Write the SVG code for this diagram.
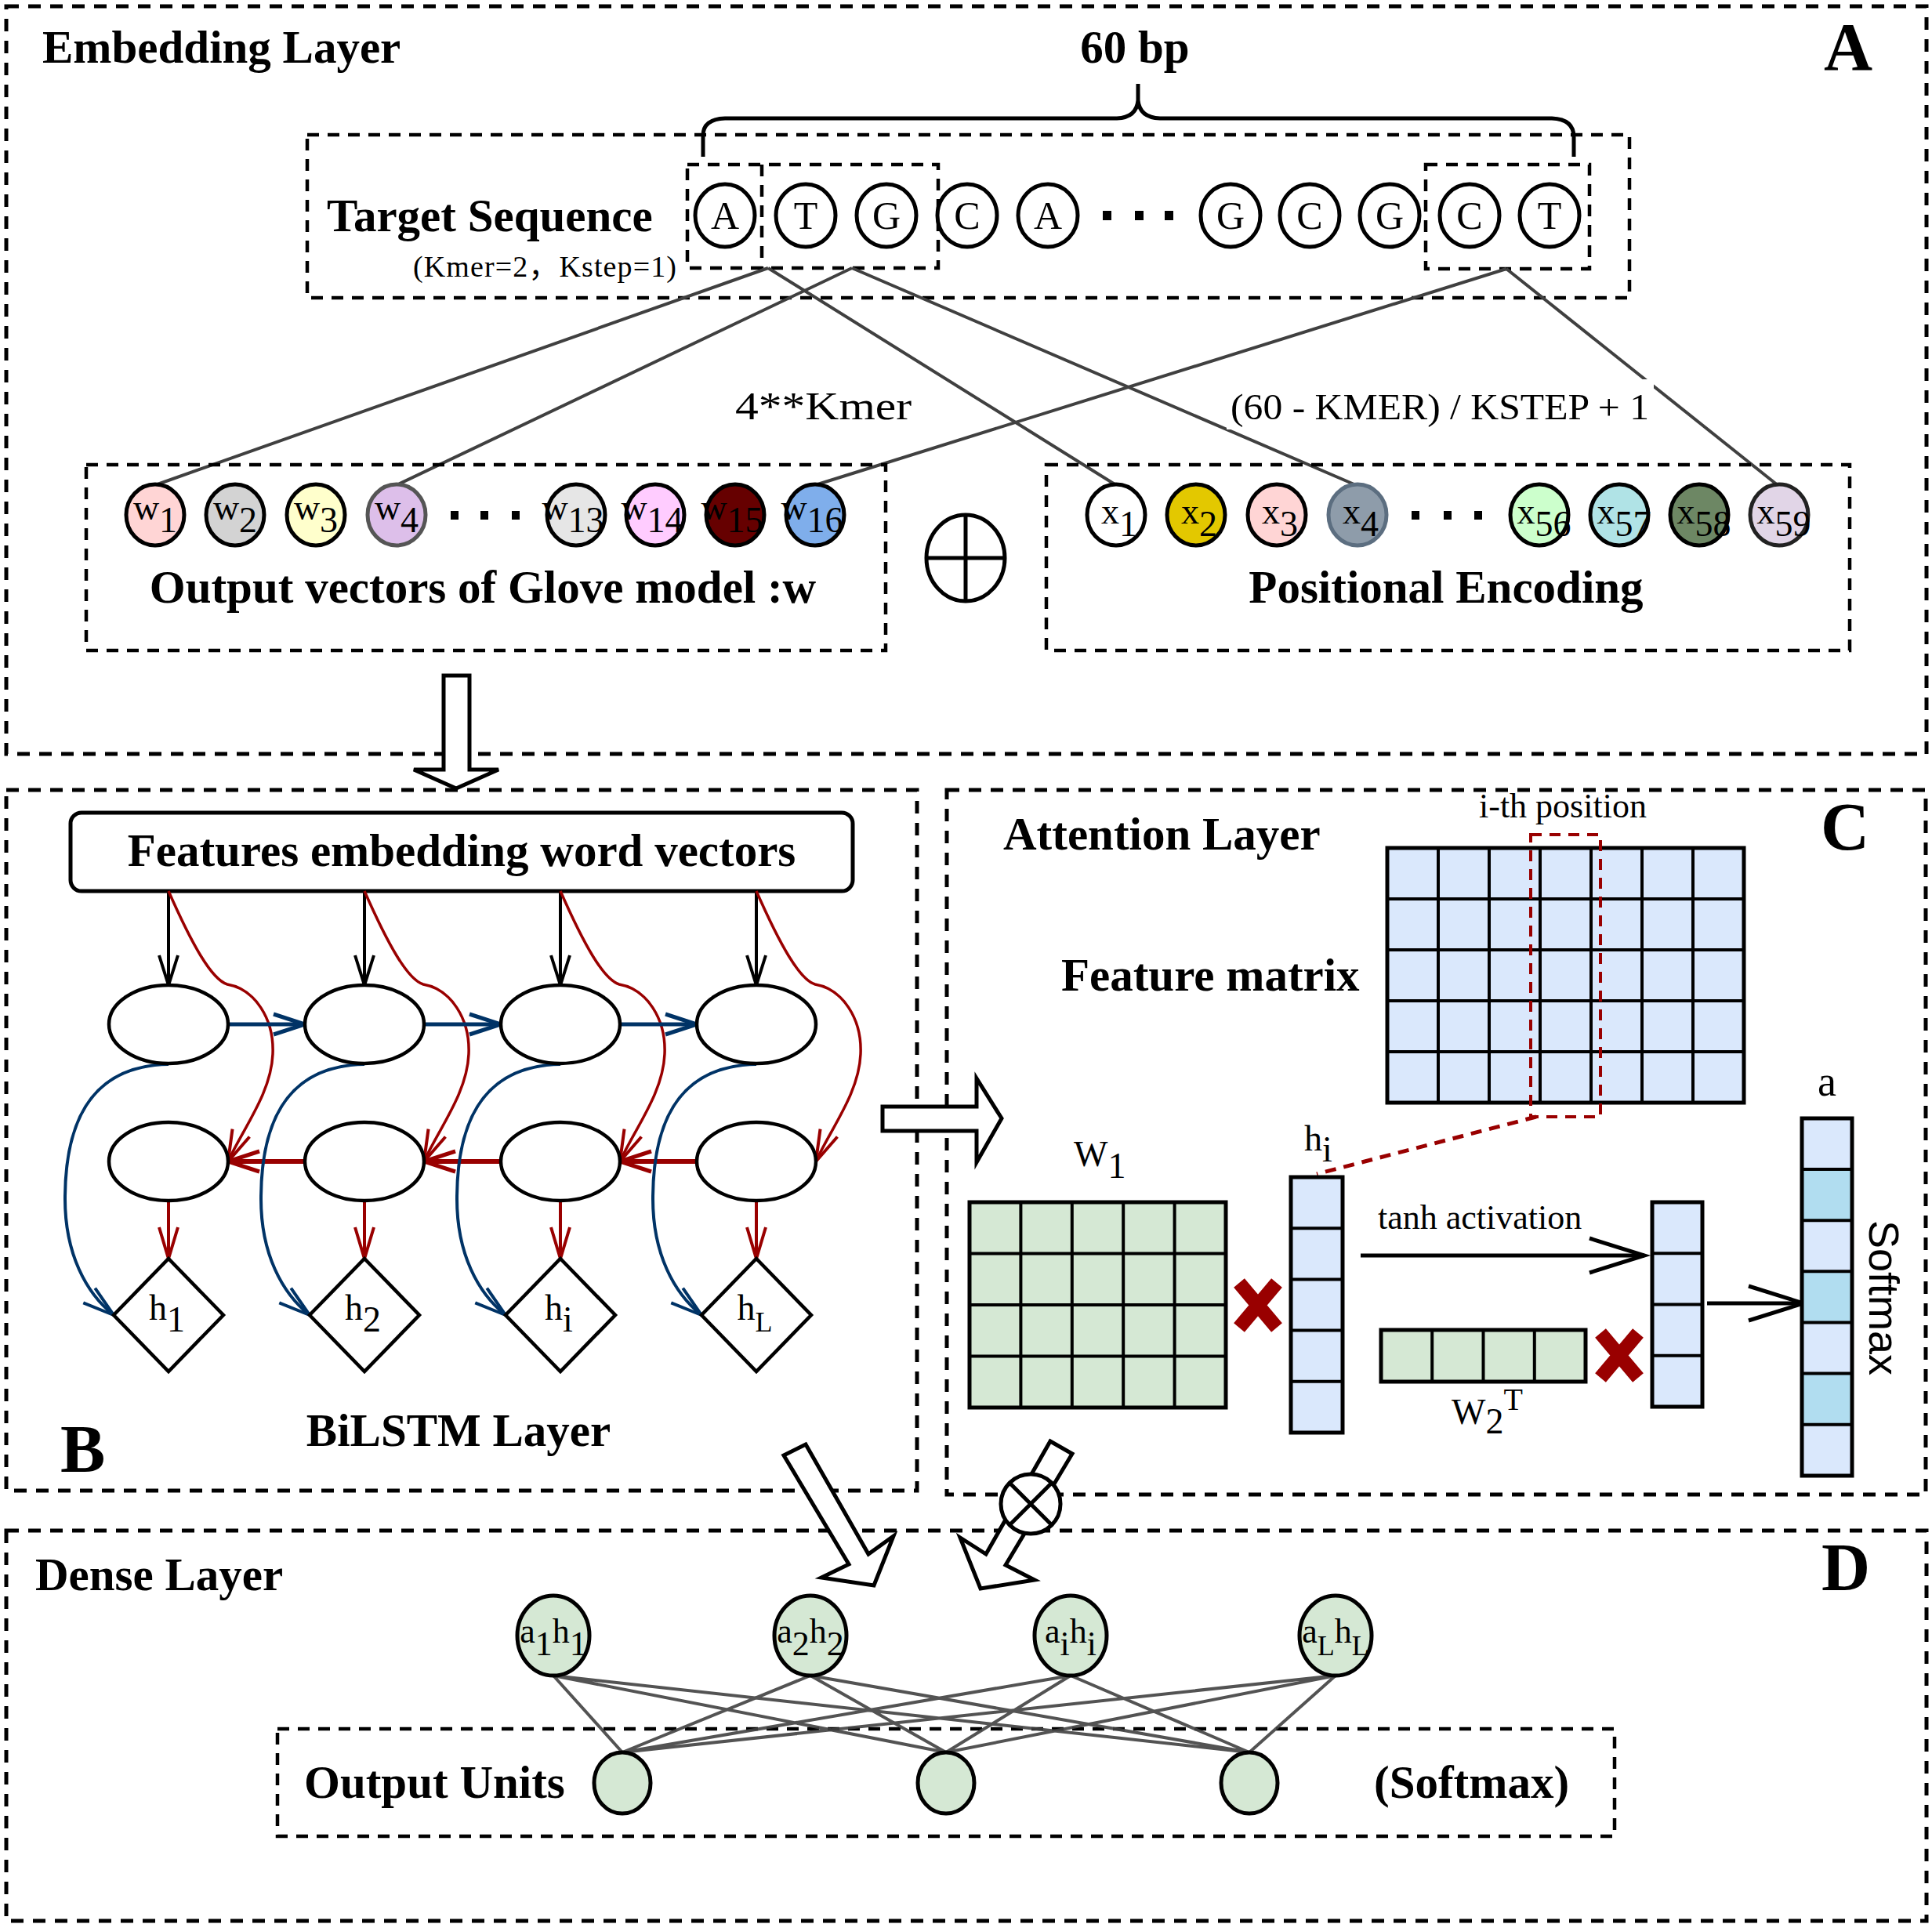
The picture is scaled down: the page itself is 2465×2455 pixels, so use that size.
<svg xmlns="http://www.w3.org/2000/svg" width="2465" height="2455" viewBox="0 0 2465 2455">
<style>
text{font-family:"Liberation Serif","Times New Roman",serif;fill:#000}
.b{font-weight:bold;font-size:59px}
.big{font-weight:bold;font-size:86px}
.r{font-size:46px}
.pnl{fill:none;stroke:#000;stroke-width:5;stroke-dasharray:16 12}
.box{fill:none;stroke:#000;stroke-width:4.5;stroke-dasharray:15 11}
.seq{fill:#fff;stroke:#000;stroke-width:5}
.vec{stroke:#000;stroke-width:5}
.link{stroke:#404040;stroke-width:4;fill:none}
.ell{fill:#fff;stroke:#000;stroke-width:4.5}
.grid{fill:none;stroke:#000;stroke-width:4}
.blu{fill:none;stroke:#003366;stroke-width:4}
.red{fill:none;stroke:#990000;stroke-width:3.5}
.hollow{fill:#fff;stroke:#000;stroke-width:5;stroke-linejoin:miter}
.dot{fill:#000}
.xm{stroke:#990000;stroke-width:18;fill:none}
</style>
<defs>
<marker id="mBlk" markerUnits="userSpaceOnUse" markerWidth="50" markerHeight="40" viewBox="-5 -5 50 40" refX="38" refY="12" orient="auto" overflow="visible"><path d="M0,0 L38,12 L0,24" fill="none" stroke="#000" stroke-width="4"/></marker>
<marker id="mBlu" markerUnits="userSpaceOnUse" markerWidth="50" markerHeight="40" viewBox="-5 -5 50 40" refX="40" refY="13" orient="auto" overflow="visible"><path d="M0,0 L40,13 L0,26" fill="none" stroke="#003366" stroke-width="5"/></marker>
<marker id="mRed" markerUnits="userSpaceOnUse" markerWidth="50" markerHeight="40" viewBox="-5 -5 50 40" refX="40" refY="13" orient="auto" overflow="visible"><path d="M0,0 L40,13 L0,26" fill="none" stroke="#990000" stroke-width="5"/></marker>
<marker id="mRedT" markerUnits="userSpaceOnUse" markerWidth="50" markerHeight="40" viewBox="-5 -5 50 40" refX="40" refY="12" orient="auto" overflow="visible"><path d="M0,0 L40,12 L0,24" fill="none" stroke="#990000" stroke-width="4"/></marker>
<marker id="mBluT" markerUnits="userSpaceOnUse" markerWidth="50" markerHeight="40" viewBox="-5 -5 50 40" refX="40" refY="12" orient="auto" overflow="visible"><path d="M0,0 L40,12 L0,24" fill="none" stroke="#003366" stroke-width="4"/></marker>
<marker id="mBig" markerUnits="userSpaceOnUse" markerWidth="80" markerHeight="60" viewBox="-5 -5 80 60" refX="70" refY="22" orient="auto" overflow="visible"><path d="M0,0 L70,22 L0,44" fill="none" stroke="#000" stroke-width="5"/></marker>
</defs>

<!-- Panel borders -->
<g id="panel-A"><rect class="pnl" x="8" y="8" width="2450" height="954"/></g>
<g id="panel-B"><rect class="pnl" x="8" y="1008" width="1162" height="894"/></g>
<g id="panel-C"><rect class="pnl" x="1208" y="1008" width="1249" height="899"/></g>
<g id="panel-D"><rect class="pnl" x="8" y="1953" width="2450" height="498"/></g>

<!-- ===== Panel A ===== -->
<text class="b" x="54" y="80">Embedding Layer</text>
<text class="b" x="1448" y="80" text-anchor="middle">60 bp</text>
<text class="big" x="2327" y="89">A</text>

<g id="brace"><path d="M897,200 V173 Q897,152 925,151 H1425 Q1450,150 1452,128 V107 M1452,128 Q1454,150 1480,151 H1980 Q2008,152 2008,175 V200" fill="none" stroke="#000" stroke-width="5"/></g>

<g id="target-sequence">
<rect class="box" x="392" y="172" width="1687" height="208"/>
<text class="b" x="417" y="295">Target Sequence</text>
<text x="527" y="353" font-size="38" textLength="336">(Kmer=2<tspan font-family="'Noto Sans CJK SC',sans-serif">，</tspan>Kstep=1)</text>
<rect class="box" x="877" y="210" width="320" height="132"/>
<line class="box" x1="972" y1="210" x2="972" y2="342"/>
<rect class="box" x="1819" y="210" width="209" height="133"/>
</g>

<g id="seq-nodes" font-size="50">
<g id="s1"><ellipse class="seq" cx="925" cy="275" rx="38" ry="40"/><text x="925" y="292" text-anchor="middle" font-size="50">A</text></g>
<g id="s2"><ellipse class="seq" cx="1028" cy="275" rx="38" ry="40"/><text x="1028" y="292" text-anchor="middle" font-size="50">T</text></g>
<g id="s3"><ellipse class="seq" cx="1131" cy="275" rx="38" ry="40"/><text x="1131" y="292" text-anchor="middle" font-size="50">G</text></g>
<g id="s4"><ellipse class="seq" cx="1234" cy="275" rx="38" ry="40"/><text x="1234" y="292" text-anchor="middle" font-size="50">C</text></g>
<g id="s5"><ellipse class="seq" cx="1337" cy="275" rx="38" ry="40"/><text x="1337" y="292" text-anchor="middle" font-size="50">A</text></g>
<g id="seq-dots"><rect class="dot" x="1407" y="269" width="11" height="12"/><rect class="dot" x="1448" y="269" width="11" height="12"/><rect class="dot" x="1486" y="269" width="11" height="12"/></g>
<g id="s56"><ellipse class="seq" cx="1570" cy="275" rx="38" ry="40"/><text x="1570" y="292" text-anchor="middle" font-size="50">G</text></g>
<g id="s57"><ellipse class="seq" cx="1671" cy="275" rx="38" ry="40"/><text x="1671" y="292" text-anchor="middle" font-size="50">C</text></g>
<g id="s58"><ellipse class="seq" cx="1773" cy="275" rx="38" ry="40"/><text x="1773" y="292" text-anchor="middle" font-size="50">G</text></g>
<g id="s59"><ellipse class="seq" cx="1875" cy="275" rx="38" ry="40"/><text x="1875" y="292" text-anchor="middle" font-size="50">C</text></g>
<g id="s60"><ellipse class="seq" cx="1977" cy="275" rx="38" ry="40"/><text x="1977" y="292" text-anchor="middle" font-size="50">T</text></g>
</g>

<g id="embed-connectors">
<line class="link" x1="980" y1="342" x2="198" y2="619"/>
<line class="link" x1="980" y1="342" x2="1424" y2="619"/>
<line class="link" x1="1087" y1="342" x2="506" y2="619"/>
<line class="link" x1="1087" y1="342" x2="1730" y2="619"/>
<line class="link" x1="1922" y1="343" x2="1040" y2="619"/>
<line class="link" x1="1922" y1="343" x2="2268" y2="619"/>
</g>

<text x="938" y="535" font-size="50" textLength="225" lengthAdjust="spacingAndGlyphs">4**Kmer</text>
<g id="formula-label"><rect x="1565" y="484" width="545" height="64" fill="#fff"/><text x="1570" y="535" font-size="47" textLength="534" lengthAdjust="spacingAndGlyphs">(60 - KMER) / KSTEP + 1</text></g>

<g id="glove">
<rect class="box" x="110" y="593" width="1020" height="237"/>
<g id="w1"><ellipse cx="198" cy="657" rx="37" ry="39" fill="#FFD5D5" class="vec"/><text class="r" x="198" y="663" text-anchor="middle">w<tspan dy="16">1</tspan></text></g>
<g id="w2"><ellipse cx="300" cy="657" rx="37" ry="39" fill="#D3D3D3" class="vec"/><text class="r" x="300" y="663" text-anchor="middle">w<tspan dy="16">2</tspan></text></g>
<g id="w3"><ellipse cx="403" cy="657" rx="37" ry="39" fill="#FFFFCC" class="vec"/><text class="r" x="403" y="663" text-anchor="middle">w<tspan dy="16">3</tspan></text></g>
<g id="w4"><ellipse cx="506" cy="657" rx="37" ry="39" fill="#DDBFEA" stroke="#555" stroke-width="5"/><text class="r" x="506" y="663" text-anchor="middle">w<tspan dy="16">4</tspan></text></g>
<g id="w-dots"><rect class="dot" x="575" y="652" width="10" height="11"/><rect class="dot" x="613" y="652" width="10" height="11"/><rect class="dot" x="653" y="652" width="10" height="11"/></g>
<g id="w13"><ellipse cx="735" cy="657" rx="37" ry="39" fill="#E6E6E6" class="vec"/><text class="r" x="731" y="663" text-anchor="middle">w<tspan dy="16">13</tspan></text></g>
<g id="w14"><ellipse cx="836" cy="657" rx="37" ry="39" fill="#FFCCFF" class="vec"/><text class="r" x="832" y="663" text-anchor="middle">w<tspan dy="16">14</tspan></text></g>
<g id="w15"><ellipse cx="938" cy="657" rx="37" ry="39" fill="#660000" class="vec"/><text class="r" x="934" y="663" text-anchor="middle">w<tspan dy="16">15</tspan></text></g>
<g id="w16"><ellipse cx="1040" cy="657" rx="37" ry="39" fill="#7FAEEB" class="vec"/><text class="r" x="1036" y="663" text-anchor="middle">w<tspan dy="16">16</tspan></text></g>
<text class="b" x="616" y="769" text-anchor="middle">Output vectors of Glove model :w</text>
</g>

<g id="oplus"><ellipse cx="1232" cy="712" rx="50" ry="55" fill="#fff" stroke="#000" stroke-width="5"/><path d="M1182,712 H1282 M1232,657 V767" stroke="#000" stroke-width="5"/></g>

<g id="positional">
<rect class="box" x="1335" y="593" width="1025" height="237"/>
<g id="x1"><ellipse cx="1424" cy="657" rx="37" ry="39" fill="#fff" class="vec"/><text class="r" x="1428" y="668" text-anchor="middle">x<tspan dy="16">1</tspan></text></g>
<g id="x2"><ellipse cx="1526" cy="657" rx="37" ry="39" fill="#E3C800" class="vec"/><text class="r" x="1530" y="668" text-anchor="middle">x<tspan dy="16">2</tspan></text></g>
<g id="x3"><ellipse cx="1629" cy="657" rx="37" ry="39" fill="#FFD5D5" class="vec"/><text class="r" x="1633" y="668" text-anchor="middle">x<tspan dy="16">3</tspan></text></g>
<g id="x4"><ellipse cx="1732" cy="657" rx="37" ry="39" fill="#8E9CAA" stroke="#5C6E80" stroke-width="5"/><text class="r" x="1736" y="668" text-anchor="middle">x<tspan dy="16">4</tspan></text></g>
<g id="x-dots"><rect class="dot" x="1801" y="652" width="10" height="11"/><rect class="dot" x="1842" y="652" width="10" height="11"/><rect class="dot" x="1881" y="652" width="10" height="11"/></g>
<g id="x56"><ellipse cx="1964" cy="657" rx="37" ry="39" fill="#CCFFCC" class="vec"/><text class="r" x="1970" y="668" text-anchor="middle">x<tspan dy="16">56</tspan></text></g>
<g id="x57"><ellipse cx="2066" cy="657" rx="37" ry="39" fill="#B0E3E6" class="vec"/><text class="r" x="2072" y="668" text-anchor="middle">x<tspan dy="16">57</tspan></text></g>
<g id="x58"><ellipse cx="2168" cy="657" rx="37" ry="39" fill="#6D8764" class="vec"/><text class="r" x="2174" y="668" text-anchor="middle">x<tspan dy="16">58</tspan></text></g>
<g id="x59"><ellipse cx="2270" cy="657" rx="37" ry="39" fill="#E1D5E7" stroke="#222" stroke-width="5"/><text class="r" x="2276" y="668" text-anchor="middle">x<tspan dy="16">59</tspan></text></g>
<text class="b" x="1845" y="769" text-anchor="middle">Positional Encoding</text>
</g>

<g id="arrow-A-B"><polygon class="hollow" points="566,862 599,862 599,982 636,982 582,1006 528,982 566,982"/></g>

<!-- ===== Panel B ===== -->
<g id="features-box"><rect x="90" y="1037" width="998" height="100" rx="14" fill="#fff" stroke="#000" stroke-width="5"/><text class="b" x="589" y="1105" text-anchor="middle">Features embedding word vectors</text></g>

<g id="bilstm-connectors">
<g id="col1-links">
<line x1="215" y1="1137" x2="215" y2="1257" stroke="#000" stroke-width="4" marker-end="url(#mBlk)"/>
<path class="red" d="M215,1137 C245,1205 270,1250 290,1256 C325,1262 350,1300 348,1345 C346,1395 310,1440 291,1482" marker-end="url(#mRedT)"/>
<path class="blu" d="M215,1358 C110,1360 83,1440 83,1530 C83,1600 110,1650 145,1678" marker-end="url(#mBluT)"/>
<line x1="215" y1="1533" x2="215" y2="1606" stroke="#990000" stroke-width="4" marker-end="url(#mRedT)"/>
<line x1="291" y1="1307" x2="389" y2="1307" stroke="#003366" stroke-width="5" marker-end="url(#mBlu)"/>
<line x1="389" y1="1482" x2="291" y2="1482" stroke="#990000" stroke-width="6" marker-end="url(#mRed)"/>
</g>
<g id="col2-links" transform="translate(250,0)">
<line x1="215" y1="1137" x2="215" y2="1257" stroke="#000" stroke-width="4" marker-end="url(#mBlk)"/>
<path class="red" d="M215,1137 C245,1205 270,1250 290,1256 C325,1262 350,1300 348,1345 C346,1395 310,1440 291,1482" marker-end="url(#mRedT)"/>
<path class="blu" d="M215,1358 C110,1360 83,1440 83,1530 C83,1600 110,1650 145,1678" marker-end="url(#mBluT)"/>
<line x1="215" y1="1533" x2="215" y2="1606" stroke="#990000" stroke-width="4" marker-end="url(#mRedT)"/>
<line x1="291" y1="1307" x2="389" y2="1307" stroke="#003366" stroke-width="5" marker-end="url(#mBlu)"/>
<line x1="389" y1="1482" x2="291" y2="1482" stroke="#990000" stroke-width="6" marker-end="url(#mRed)"/>
</g>
<g id="col3-links" transform="translate(500,0)">
<line x1="215" y1="1137" x2="215" y2="1257" stroke="#000" stroke-width="4" marker-end="url(#mBlk)"/>
<path class="red" d="M215,1137 C245,1205 270,1250 290,1256 C325,1262 350,1300 348,1345 C346,1395 310,1440 291,1482" marker-end="url(#mRedT)"/>
<path class="blu" d="M215,1358 C110,1360 83,1440 83,1530 C83,1600 110,1650 145,1678" marker-end="url(#mBluT)"/>
<line x1="215" y1="1533" x2="215" y2="1606" stroke="#990000" stroke-width="4" marker-end="url(#mRedT)"/>
<line x1="291" y1="1307" x2="389" y2="1307" stroke="#003366" stroke-width="5" marker-end="url(#mBlu)"/>
<line x1="389" y1="1482" x2="291" y2="1482" stroke="#990000" stroke-width="6" marker-end="url(#mRed)"/>
</g>
<g id="col4-links" transform="translate(750,0)">
<line x1="215" y1="1137" x2="215" y2="1257" stroke="#000" stroke-width="4" marker-end="url(#mBlk)"/>
<path class="red" d="M215,1137 C245,1205 270,1250 290,1256 C325,1262 350,1300 348,1345 C346,1395 310,1440 291,1482" marker-end="url(#mRedT)"/>
<path class="blu" d="M215,1358 C110,1360 83,1440 83,1530 C83,1600 110,1650 145,1678" marker-end="url(#mBluT)"/>
<line x1="215" y1="1533" x2="215" y2="1606" stroke="#990000" stroke-width="4" marker-end="url(#mRedT)"/>
</g>
</g>

<g id="lstm-nodes">
<g id="fw1"><ellipse class="ell" cx="215" cy="1307" rx="76" ry="50"/></g>
<g id="fw2"><ellipse class="ell" cx="465" cy="1307" rx="76" ry="50"/></g>
<g id="fw3"><ellipse class="ell" cx="715" cy="1307" rx="76" ry="50"/></g>
<g id="fw4"><ellipse class="ell" cx="965" cy="1307" rx="76" ry="50"/></g>
<g id="bw1"><ellipse class="ell" cx="215" cy="1482" rx="76" ry="50"/></g>
<g id="bw2"><ellipse class="ell" cx="465" cy="1482" rx="76" ry="50"/></g>
<g id="bw3"><ellipse class="ell" cx="715" cy="1482" rx="76" ry="50"/></g>
<g id="bw4"><ellipse class="ell" cx="965" cy="1482" rx="76" ry="50"/></g>
<g id="h1"><polygon points="215,1606 285,1678 215,1750 145,1678" fill="#fff" stroke="#000" stroke-width="4.5"/><text class="r" x="213" y="1684" text-anchor="middle">h<tspan dy="15">1</tspan></text></g>
<g id="h2"><polygon points="465,1606 535,1678 465,1750 395,1678" fill="#fff" stroke="#000" stroke-width="4.5"/><text class="r" x="463" y="1684" text-anchor="middle">h<tspan dy="15">2</tspan></text></g>
<g id="hi"><polygon points="715,1606 785,1678 715,1750 645,1678" fill="#fff" stroke="#000" stroke-width="4.5"/><text class="r" x="713" y="1684" text-anchor="middle">h<tspan dy="15">i</tspan></text></g>
<g id="hL"><polygon points="965,1606 1035,1678 965,1750 895,1678" fill="#fff" stroke="#000" stroke-width="4.5"/><text class="r" x="963" y="1684" text-anchor="middle">h<tspan dy="15" font-size="36">L</tspan></text></g>
</g>
<text class="b" x="585" y="1845" text-anchor="middle">BiLSTM Layer</text>
<text class="big" x="77" y="1878">B</text>

<g id="arrow-B-C"><polygon class="hollow" points="1126,1412 1246,1412 1246,1376 1278,1427 1246,1483 1246,1443 1126,1443"/></g>

<!-- ===== Panel C ===== -->
<text class="b" x="1280" y="1084">Attention Layer</text>
<text x="1887" y="1043" font-size="44">i-th position</text>
<text class="big" x="2323" y="1084">C</text>
<text class="b" x="1354" y="1264">Feature matrix</text>

<g id="feature-matrix">
<rect x="1770" y="1082" width="455" height="325" fill="#DAE8FC"/>
<path class="grid" d="M1835,1082V1407M1900,1082V1407M1965,1082V1407M2030,1082V1407M2095,1082V1407M2160,1082V1407M1770,1147H2225M1770,1212H2225M1770,1277H2225M1770,1342H2225"/>
<rect x="1770" y="1082" width="455" height="325" fill="none" stroke="#000" stroke-width="5"/>
</g>
<g id="ith-column"><rect x="1953" y="1065" width="89" height="360" fill="none" stroke="#990000" stroke-width="4" stroke-dasharray="14 10"/></g>
<g id="ith-link"><line x1="1960" y1="1425" x2="1680" y2="1498" stroke="#990000" stroke-width="5" stroke-dasharray="14 10"/></g>

<g id="W1">
<rect x="1237" y="1534" width="327" height="262" fill="#D5E8D4"/>
<path class="grid" d="M1302.4,1534V1796M1367.8,1534V1796M1433.2,1534V1796M1498.6,1534V1796M1237,1599.5H1564M1237,1665H1564M1237,1730.5H1564"/>
<rect x="1237" y="1534" width="327" height="262" fill="none" stroke="#000" stroke-width="5"/>
<text class="r" x="1370" y="1488">W<tspan dy="15">1</tspan></text>
</g>
<g id="times1"><path class="xm" d="M1581,1637 L1629,1694 M1629,1637 L1581,1694"/></g>

<g id="h-i-vector">
<rect x="1647" y="1502" width="66" height="326" fill="#DAE8FC"/>
<path class="grid" d="M1647,1567.2H1713M1647,1632.4H1713M1647,1697.6H1713M1647,1762.8H1713"/>
<rect x="1647" y="1502" width="66" height="326" fill="none" stroke="#000" stroke-width="5"/>
<text class="r" x="1664" y="1468">h<tspan dy="14">i</tspan></text>
</g>

<g id="tanh-arrow"><line x1="1736" y1="1602" x2="2098" y2="1602" stroke="#000" stroke-width="5" marker-end="url(#mBig)"/></g>
<text x="1758" y="1568" font-size="44">tanh activation</text>

<g id="tanh-vector">
<rect x="2108" y="1534" width="64" height="261" fill="#DAE8FC"/>
<path class="grid" d="M2108,1599.2H2172M2108,1664.5H2172M2108,1729.8H2172"/>
<rect x="2108" y="1534" width="64" height="261" fill="none" stroke="#000" stroke-width="5"/>
</g>

<g id="W2T">
<rect x="1762" y="1697" width="261" height="66" fill="#D5E8D4"/>
<path class="grid" d="M1827.2,1697V1763M1892.5,1697V1763M1957.8,1697V1763"/>
<rect x="1762" y="1697" width="261" height="66" fill="none" stroke="#000" stroke-width="5"/>
<text class="r" x="1852" y="1817">W<tspan dy="12">2</tspan><tspan dy="-30" font-size="40">T</tspan></text>
</g>
<g id="times2"><path class="xm" d="M2042,1701 L2090,1758 M2090,1701 L2042,1758"/></g>

<g id="softmax-arrow"><line x1="2178" y1="1663" x2="2301" y2="1663" stroke="#000" stroke-width="5" marker-end="url(#mBig)"/></g>

<g id="a-vector">
<rect x="2299" y="1427" width="64" height="456" fill="#DAE8FC"/>
<rect x="2299" y="1492.1" width="64" height="65.1" fill="#B1DDF0"/>
<rect x="2299" y="1622.3" width="64" height="65.1" fill="#B1DDF0"/>
<rect x="2299" y="1752.6" width="64" height="65.1" fill="#B1DDF0"/>
<path class="grid" d="M2299,1492.1H2363M2299,1557.2H2363M2299,1622.3H2363M2299,1687.4H2363M2299,1752.6H2363M2299,1817.7H2363"/>
<rect x="2299" y="1427" width="64" height="456" fill="none" stroke="#000" stroke-width="5"/>
<text x="2331" y="1398" font-size="54" text-anchor="middle">a</text>
</g>
<text transform="translate(2385,1656) rotate(90)" text-anchor="middle" style="font-family:'Liberation Sans',Arial,sans-serif" font-size="54">Softmax</text>

<!-- arrows into D -->
<g id="arrow-B-D"><polygon class="hollow" points="1000,1857 1028,1843 1108,1983 1140,1960 1115,2023 1048,2013 1083,1996"/></g>
<g id="arrow-C-D"><polygon class="hollow" points="1340,1839 1368,1855 1283,1997 1320,2016 1251,2027 1225,1962 1258,1983"/>
<circle cx="1315" cy="1919" r="38" fill="#fff" stroke="#000" stroke-width="5"/><path d="M1288,1892 L1342,1946 M1342,1892 L1288,1946" stroke="#000" stroke-width="5"/></g>

<!-- ===== Panel D ===== -->
<text class="b" x="45" y="2029">Dense Layer</text>
<text class="big" x="2324" y="2029">D</text>
<g id="output-box"><rect class="box" x="354" y="2206" width="1706" height="137"/>
<text class="b" x="388" y="2294">Output Units</text>
<text class="b" x="1753" y="2294">(Softmax)</text></g>

<g id="dense-connectors" opacity="0.9">
<path class="link" stroke-width="4.5" d="M706,2138L794,2236M706,2138L1207,2236M706,2138L1594,2236M1034,2138L794,2236M1034,2138L1207,2236M1034,2138L1594,2236M1366,2138L794,2236M1366,2138L1207,2236M1366,2138L1594,2236M1704,2138L794,2236M1704,2138L1207,2236M1704,2138L1594,2236"/>
</g>

<g id="ah1"><ellipse cx="706" cy="2087" rx="46" ry="51" fill="#D5E8D4" stroke="#000" stroke-width="5"/><text x="706" y="2096" font-size="44" text-anchor="middle">a<tspan dy="16">1</tspan><tspan dy="-16">h</tspan><tspan dy="16">1</tspan></text></g>
<g id="ah2"><ellipse cx="1034" cy="2087" rx="46" ry="51" fill="#D5E8D4" stroke="#000" stroke-width="5"/><text x="1034" y="2096" font-size="44" text-anchor="middle">a<tspan dy="16">2</tspan><tspan dy="-16">h</tspan><tspan dy="16">2</tspan></text></g>
<g id="ahi"><ellipse cx="1366" cy="2087" rx="46" ry="51" fill="#D5E8D4" stroke="#000" stroke-width="5"/><text x="1366" y="2096" font-size="44" text-anchor="middle">a<tspan dy="16">i</tspan><tspan dy="-16">h</tspan><tspan dy="16">i</tspan></text></g>
<g id="ahL"><ellipse cx="1704" cy="2087" rx="46" ry="51" fill="#D5E8D4" stroke="#000" stroke-width="5"/><text x="1704" y="2096" font-size="44" text-anchor="middle">a<tspan dy="16" font-size="36">L</tspan><tspan dy="-16">h</tspan><tspan dy="16" font-size="36">L</tspan></text></g>
<g id="o1"><ellipse cx="794" cy="2275" rx="36" ry="39" fill="#D5E8D4" stroke="#000" stroke-width="5"/></g>
<g id="o2"><ellipse cx="1207" cy="2275" rx="36" ry="39" fill="#D5E8D4" stroke="#000" stroke-width="5"/></g>
<g id="o3"><ellipse cx="1594" cy="2275" rx="36" ry="39" fill="#D5E8D4" stroke="#000" stroke-width="5"/></g>
</svg>
